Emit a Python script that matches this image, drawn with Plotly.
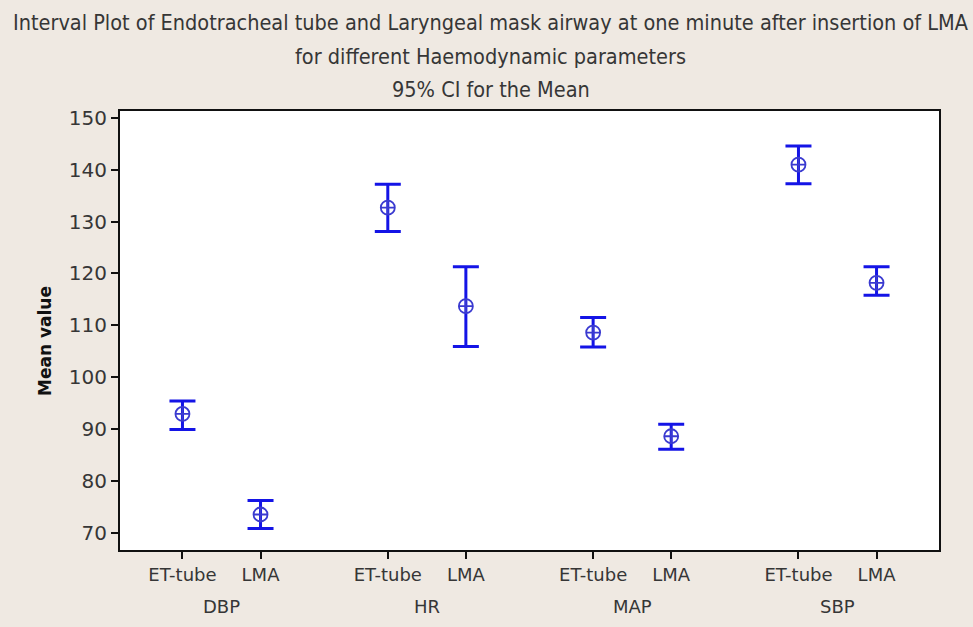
import plotly.graph_objects as go

# Haemodynamic parameters and airway devices
parameters = ["DBP", "HR", "MAP", "SBP"]
devices = ["ET-tube", "LMA"]

# Means and 95% confidence limits, ordered parameter by parameter, ET-tube then LMA
means = [92.9, 73.5, 132.7, 113.7, 108.6, 88.6, 141.0, 118.2]
lower = [89.9, 70.8, 128.1, 105.9, 105.8, 86.1, 137.3, 115.8]
upper = [95.4, 76.2, 137.2, 121.3, 111.5, 90.9, 144.6, 121.3]

y_ticks = [70, 80, 90, 100, 110, 120, 130, 140, 150]

W, H = 973, 627
ML, MR, MT, MB = 120, 34, 111, 77
PW, PH = W - ML - MR, H - MT - MB

GROUP_STEP = 2.63  # spacing between parameter groups, in units of device spacing
xs, xlabels = [], []
for g, _ in enumerate(parameters):
    for d, dev in enumerate(devices):
        xs.append(g * GROUP_STEP + d)
        xlabels.append(dev)

err_plus = [u - m for u, m in zip(upper, means)]
err_minus = [m - l for m, l in zip(means, lower)]

fig = go.Figure()
fig.add_trace(go.Scatter(
    x=xs, y=means, mode="markers",
    marker=dict(symbol="circle-cross-open", size=14, color="#3a3ad0",
                line=dict(width=1.8, color="#3a3ad0")),
    error_y=dict(type="data", symmetric=False, array=err_plus, arrayminus=err_minus,
                 color="#1414e6", thickness=3, width=13),
    showlegend=False, hoverinfo="y",
))

text_col = "#363636"
font_txt = "DejaVu Sans, Verdana, sans-serif"
font_title = "DejaVu Sans Condensed, Liberation Sans Narrow, sans-serif"

fig.update_layout(
    width=W, height=H,
    margin=dict(l=ML, r=MR, t=MT, b=MB),
    paper_bgcolor="#efe9e2",
    plot_bgcolor="#ffffff",
    xaxis=dict(
        range=[-0.8, 3 * GROUP_STEP + 1 + 0.8],
        tickmode="array", tickvals=xs, ticktext=xlabels,
        showgrid=False, zeroline=False,
        showline=True, linecolor="#111111", linewidth=2, mirror=True,
        ticks="outside", ticklen=7, tickwidth=2, tickcolor="#111111",
        tickfont=dict(family=font_txt, size=18, color=text_col),
    ),
    yaxis=dict(
        range=[66.65, 151.35],
        tickmode="array", tickvals=y_ticks,
        showgrid=False, zeroline=False,
        showline=True, linecolor="#111111", linewidth=2, mirror=True,
        ticks="outside", ticklen=7, tickwidth=2, tickcolor="#111111",
        tickfont=dict(family=font_txt, size=20, color=text_col),
    ),
)

def paper_x(px):
    return (px - ML) / PW

def paper_y(py):
    return 1 - (py - MT) / PH

# Y-axis title
fig.add_annotation(
    x=paper_x(45), y=paper_y(341), xref="paper", yref="paper",
    xanchor="center", yanchor="middle", showarrow=False, textangle=-90,
    text="<b>Mean value</b>",
    font=dict(family=font_txt, size=17, color="#111111"),
)

# Parameter names centred under each pair of devices
for g, name in enumerate(parameters):
    fig.add_annotation(
        x=g * GROUP_STEP + 0.5, y=paper_y(606), xref="x", yref="paper",
        yanchor="middle", showarrow=False, text=name,
        font=dict(family=font_txt, size=18, color=text_col),
    )

title_lines = [
    ("Interval Plot of Endotracheal tube and Laryngeal mask airway at one minute after insertion of LMA", 22),
    ("for different Haemodynamic parameters", 56),
    ("95% CI for the Mean", 90),
]
for text, ypix in title_lines:
    fig.add_annotation(
        x=paper_x(W / 2 + 4), xref="paper", y=paper_y(ypix), yref="paper",
        yanchor="middle", xanchor="center", showarrow=False, text=text,
        font=dict(family=font_title, size=21.5, color=text_col),
    )

fig.write_html("out.html")
